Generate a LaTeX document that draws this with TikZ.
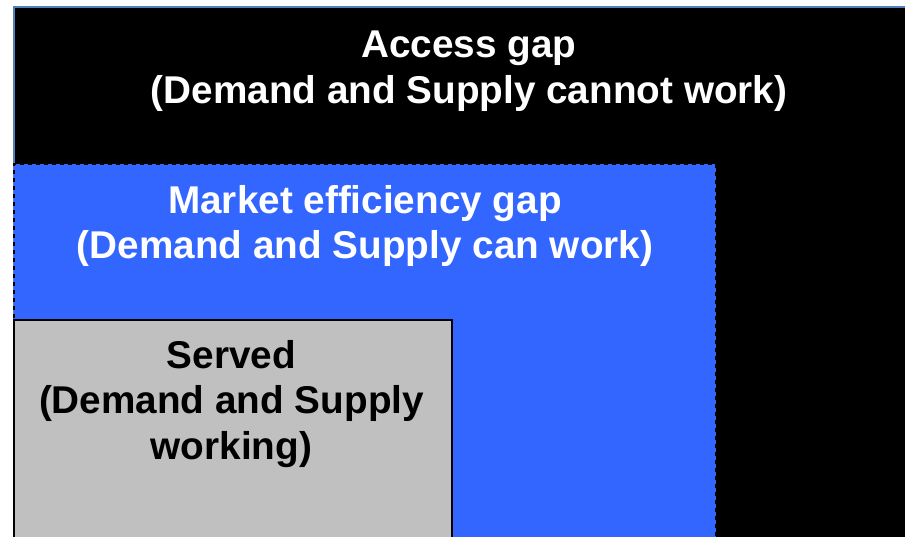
\documentclass[tikz,border=0pt]{standalone}
\usepackage{fontspec}
\setmainfont{Liberation Sans}
\definecolor{framebl}{HTML}{4F81BD}
\definecolor{gapblue}{HTML}{3366FF}
\definecolor{servgrey}{HTML}{C0C0C0}
\tikzset{
  lbl/.style={align=center, font=\bfseries\fontsize{38.7}{45.5}\selectfont, inner sep=0pt},
}
\begin{document}
\begin{tikzpicture}[x=1pt,y=1pt]
\useasboundingbox (0,0) rectangle (905,537);
\fill[white] (0,0) rectangle (905,537);
\draw[framebl, line width=2pt, fill=black] (14,-5) rectangle (915,530);
\fill[gapblue] (14,-5) rectangle (716,373);
\draw[black, line width=2.5pt, dash pattern=on 4pt off 4pt] (14,-5) -- (14,373) -- (716,373) -- (716,-5);
\draw[black, line width=1.5pt, fill=servgrey] (14,-5) rectangle (452,217);
\node[lbl, text=white] (access) at (469,466) {Access gap\\(Demand and Supply cannot work)};
\node[lbl, text=white] (market) at (365,311) {Market efficiency gap\\(Demand and Supply can work)};
\node[lbl, text=black] (served) at (231.5,133) {Served\\(Demand and Supply\\working)};
\end{tikzpicture}
\end{document}
